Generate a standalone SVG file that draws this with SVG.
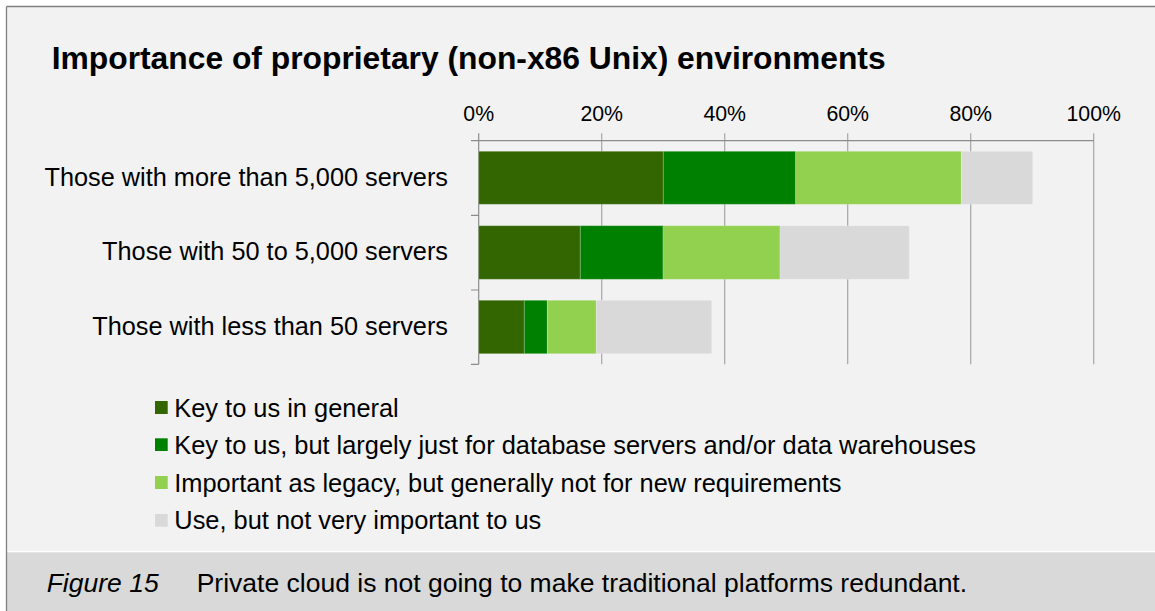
<svg xmlns="http://www.w3.org/2000/svg" width="1155" height="611" viewBox="0 0 1155 611">
<style>
text{font-family:"Liberation Sans",Arial,sans-serif;fill:#000}
.title{font-size:31.8px;font-weight:bold}
.tick{font-size:21.3px;text-anchor:middle}
.cat{font-size:25.3px;text-anchor:end}
.leg{font-size:25.4px}
.cap{font-size:26.5px}
.grid{stroke:#a6a6a6;stroke-width:1.2;fill:none}
.axis{stroke:#8c8c8c;stroke-width:1.2;fill:none}
.s1{fill:#336600}
.s2{fill:#008000}
.s3{fill:#92d050}
.s4{fill:#d9d9d9}
.bar rect{stroke:#ffffff;stroke-opacity:0.2;stroke-width:1}
</style>
<rect x="0" y="0" width="1155" height="611" fill="#ffffff"/>
<g id="panel">
<rect x="6.5" y="6.5" width="1150" height="544.5" fill="#f2f2f2"/>
<rect x="6.5" y="552.3" width="1150" height="60" fill="#d9d9d9"/>
<line x1="6.5" y1="6.5" x2="1155" y2="6.5" stroke="#7f7f7f" stroke-width="1.3"/>
<line x1="6.5" y1="6.5" x2="6.5" y2="611" stroke="#7f7f7f" stroke-width="1.3"/>
</g>
<g id="title"><text class="title" x="51.7" y="69">Importance of proprietary (non-x86 Unix) environments</text></g>
<g id="gridlines">
<path class="grid" d="M601.7 133.3V364.3M724.7 133.3V364.3M847.7 133.3V364.3M970.7 133.3V364.3M1093.7 133.3V364.3"/>
<path class="axis" d="M478.7 133.3V364.3M471 140.7H1093.7M471 215.3H478.7M471 290H478.7M471 364.3H478.7"/>
</g>
<g id="tick-labels">
<text class="tick" x="478.7" y="121">0%</text>
<text class="tick" x="601.7" y="121">20%</text>
<text class="tick" x="724.7" y="121">40%</text>
<text class="tick" x="847.7" y="121">60%</text>
<text class="tick" x="970.7" y="121">80%</text>
<text class="tick" x="1093.7" y="121">100%</text>
</g>
<g id="category-labels">
<text class="cat" x="448" y="186">Those with more than 5,000 servers</text>
<text class="cat" x="448" y="260">Those with 50 to 5,000 servers</text>
<text class="cat" x="448" y="335">Those with less than 50 servers</text>
</g>
<g id="bar-more-than-5000" class="bar">
<rect class="s1" x="478.7" y="151.3" width="184.6" height="53"/>
<rect class="s2" x="663.3" y="151.3" width="132.4" height="53"/>
<rect class="s3" x="795.7" y="151.3" width="165.6" height="53"/>
<rect class="s4" x="961.3" y="151.3" width="71.4" height="53"/>
</g>
<g id="bar-50-to-5000" class="bar">
<rect class="s1" x="478.7" y="225.7" width="101.6" height="53.6"/>
<rect class="s2" x="580.3" y="225.7" width="82.7" height="53.6"/>
<rect class="s3" x="663" y="225.7" width="117" height="53.6"/>
<rect class="s4" x="780" y="225.7" width="129.3" height="53.6"/>
</g>
<g id="bar-less-than-50" class="bar">
<rect class="s1" x="478.7" y="300.3" width="45.6" height="53.4"/>
<rect class="s2" x="524.3" y="300.3" width="23" height="53.4"/>
<rect class="s3" x="547.3" y="300.3" width="49" height="53.4"/>
<rect class="s4" x="596.3" y="300.3" width="115.4" height="53.4"/>
</g>
<g id="legend">
<rect class="s1" x="155" y="401" width="12.7" height="13"/>
<text class="leg" x="174.3" y="416.5">Key to us in general</text>
<rect class="s2" x="155" y="438.3" width="12.7" height="12.7"/>
<text class="leg" x="174.3" y="453.5">Key to us, but largely just for database servers and/or data warehouses</text>
<rect class="s3" x="155" y="476" width="12.7" height="13"/>
<text class="leg" x="174.3" y="491.5">Important as legacy, but generally not for new requirements</text>
<rect class="s4" x="155" y="514" width="12.7" height="12.7"/>
<text class="leg" x="174.3" y="529">Use, but not very important to us</text>
</g>
<g id="caption">
<text class="cap" x="46.7" y="592" font-style="italic">Figure 15</text>
<text class="cap" x="196.7" y="592">Private cloud is not going to make traditional platforms redundant.</text>
</g>
</svg>
